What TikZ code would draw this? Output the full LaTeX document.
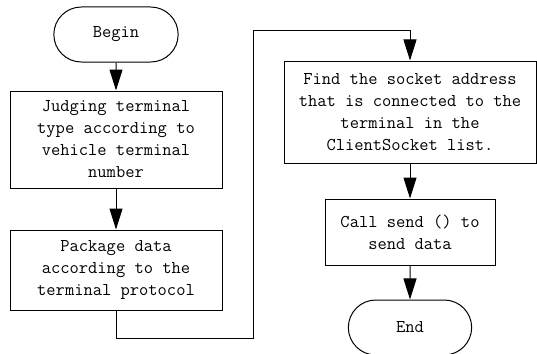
\documentclass[tikz,border=0pt]{standalone}
\usetikzlibrary{arrows.meta, positioning, shapes.misc}
\tikzset{
  box/.style={rectangle,draw,align=center,inner sep=2pt,font=\ttfamily\fontsize{18}{22}\selectfont},
  terminal/.style={rounded rectangle,draw,align=center,minimum width=131pt,minimum height=55pt,font=\ttfamily\fontsize{18}{22}\selectfont},
  line/.style={-{Triangle[length=21pt,width=13pt]}}
}
\begin{document}
\begin{tikzpicture}[x=1pt, y=-1pt, line width=1pt]
\useasboundingbox (0,0) rectangle (537,353);
\node[terminal] (begin) at (116,34.5) {Begin};
\node[box, minimum width=212pt, minimum height=97pt, below=28pt of begin] (judge) {Judging terminal\\type according to\\vehicle terminal\\number};
\node[box, minimum width=212pt, minimum height=80pt, below=41pt of judge] (pack) {Package data\\according to the\\terminal protocol};
\node[box, minimum width=252pt, minimum height=102pt] (find) at (410,112) {Find the socket address\\that is connected to the\\terminal in the\\ClientSocket list.};
\node[box, minimum width=170pt, minimum height=66pt, below=35pt of find] (send) {Call send () to\\send data};
\node[terminal, minimum width=130pt, below=34pt of send] (end) {End};
\coordinate (turn1) at (253,338);
\coordinate (turn2) at (253,31);
\draw[line] (begin) -- (judge);
\draw[line] (judge) -- (pack);
\draw[line] (pack.south) |- (turn1) -- (turn2) -| (find.north);
\draw[line] (find) -- (send);
\draw[line] (send) -- (end);
\end{tikzpicture}
\end{document}
